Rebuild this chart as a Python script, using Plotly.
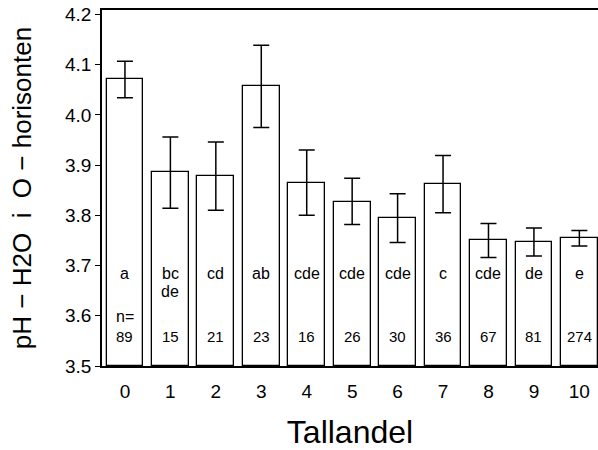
import plotly.graph_objects as go

categories = [0, 1, 2, 3, 4, 5, 6, 7, 8, 9, 10]
means = [4.071, 3.886, 3.879, 4.057, 3.865, 3.827, 3.794, 3.862, 3.750, 3.746, 3.754]
err_hi = [4.107, 3.956, 3.946, 4.139, 3.930, 3.874, 3.843, 3.919, 3.784, 3.775, 3.770]
err_lo = [4.034, 3.814, 3.810, 3.975, 3.800, 3.782, 3.746, 3.805, 3.716, 3.719, 3.739]
letters = ["a", "bc\nde", "cd", "ab", "cde", "cde", "cde", "c", "cde", "de", "e"]
counts = [89, 15, 21, 23, 16, 26, 30, 36, 67, 81, 274]

plus = [h - m for h, m in zip(err_hi, means)]
minus = [m - l for m, l in zip(means, err_lo)]

FONT = "Liberation Sans, Arial, Helvetica, sans-serif"
LETTER_Y = 3.685
LINE_STEP = 0.036

fig = go.Figure()
fig.add_trace(go.Bar(
    x=categories, y=[m - 3.5 for m in means], base=3.5, width=0.81,
    marker=dict(color="white", line=dict(color="black", width=1.3)),
    error_y=dict(type="data", symmetric=False, array=plus, arrayminus=minus,
                 color="black", thickness=1.5, width=8),
    hoverinfo="skip",
))

annotations = []
for c, lab, n in zip(categories, letters, counts):
    for i, line in enumerate(lab.split("\n")):
        annotations.append(dict(x=c, y=LETTER_Y - i * LINE_STEP, xref="x", yref="y", text=line,
                                showarrow=False, yanchor="middle", borderpad=0,
                                font=dict(size=16, family=FONT, color="black")))
    annotations.append(dict(x=c, y=3.558, xref="x", yref="y", text=str(n), showarrow=False,
                            yanchor="middle", borderpad=0,
                            font=dict(size=15, family=FONT, color="black")))
annotations.append(dict(x=categories[0], y=3.598, xref="x", yref="y", text="n=",
                        showarrow=False, yanchor="middle", borderpad=0,
                        font=dict(size=16, family=FONT, color="black")))

fig.update_layout(
    width=598, height=450,
    margin=dict(l=102, r=0, t=10, b=84),
    paper_bgcolor="white", plot_bgcolor="white",
    showlegend=False,
    font=dict(family=FONT, color="black"),
    annotations=annotations,
    bargap=0,
    xaxis=dict(range=[-0.505, 10.41], tickvals=categories, ticktext=[str(c) for c in categories],
               showgrid=False, zeroline=False, showline=True, linecolor="black", linewidth=1.5,
               mirror=True, ticks="outside", ticklen=7, tickcolor="rgba(0,0,0,0)",
               tickfont=dict(size=19, family=FONT), automargin=False,
               title=dict(text="Tallandel", font=dict(size=32, family=FONT), standoff=29)),
    yaxis=dict(range=[3.5, 4.209], tickvals=[3.5, 3.6, 3.7, 3.8, 3.9, 4.0, 4.1, 4.2],
               ticktext=["3.5", "3.6", "3.7", "3.8", "3.9", "4.0", "4.1", "4.2"],
               showgrid=False, zeroline=False, showline=True, linecolor="black", linewidth=1.5,
               mirror=True, ticks="outside", ticklen=5, tickcolor="black", automargin=False,
               tickfont=dict(size=19, family=FONT),
               title=dict(text="pH \u2212 H2O  i  O \u2212 horisonten", font=dict(size=26, family=FONT),
                          standoff=26)),
)

fig.write_html("out.html", config={"displayModeBar": False},
               post_script="document.body.style.margin='0';document.body.style.padding='0';")
